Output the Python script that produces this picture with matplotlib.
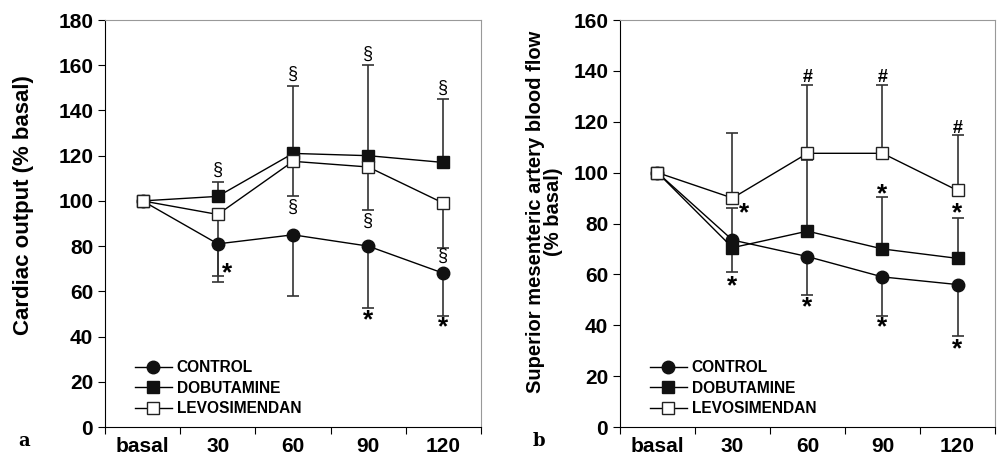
import matplotlib
matplotlib.use("Agg")
import numpy as np
import matplotlib.pyplot as plt

plt.rcParams['font.family'] = ['Liberation Sans', 'DejaVu Sans']

times = ['basal', '30', '60', '90', '120']
series = ['CONTROL', 'DOBUTAMINE', 'LEVOSIMENDAN']

# panel a: cardiac output (% basal)
co_control = [100, 81, 85, 80, 68]
co_dobut = [100, 102, 121, 120, 117]
co_levo = [100, 94, 117.5, 115, 99]
# whisker ends (None = no bar)
co_control_low = [None, 64, 58, 52.5, 49]
co_dobut_high = [None, 108.5, 151, 160, 145]
co_levo_low = [None, 67, 102, 96, 79]

# panel b: superior mesenteric artery blood flow (% basal)
sma_control = [100, 73.5, 67, 59, 56]
sma_dobut = [100, 70.5, 77, 70, 66.3]
sma_levo = [100, 90, 107.6, 107.6, 93]
sma_control_low = [None, 61, 52, 43.7, 35.6]
sma_dobut_high = [None, 86, 105, 90.3, 82.2]
sma_levo_high = [None, 115.7, 134.6, 134.6, 114.7]

# significance marks: (x position, y, symbol)
co_marks = [(1.5, 113.5, '§'), (2.5, 156, '§'), (2.5, 97, '§'), (3.5, 165, '§'),
            (3.5, 91, '§'), (4.5, 150, '§'), (4.5, 75.5, '§'),
            (1.63, 68, '*'), (3.5, 47, '*'), (4.5, 44, '*')]
sma_marks = [(1.65, 84, '*'), (1.5, 55.5, '*'), (2.5, 137.5, '#'), (3.5, 137.5, '#'),
             (4.5, 117.5, '#'), (2.5, 47, '*'), (3.5, 91.5, '*'), (3.5, 39, '*'),
             (4.5, 84, '*'), (4.5, 30.5, '*')]

x = np.arange(len(times)) + 0.5


def whiskers(ax, means, ends):
    idx = [i for i, e in enumerate(ends) if e is not None]
    m = np.array([means[i] for i in idx])
    e = np.array([ends[i] for i in idx])
    lo = np.where(e < m, m - e, 0)
    hi = np.where(e > m, e - m, 0)
    ax.errorbar(x[idx], m, yerr=[lo, hi], fmt='none', ecolor='#333333',
                elinewidth=1.2, capsize=4, capthick=1.2, zorder=2)


def panel(ax, ctrl, dob, lev, bars, marks, ymax):
    for means, ends in bars:
        whiskers(ax, means, ends)
    ax.plot(x, ctrl, '-o', color='black', lw=1, ms=9, mfc='#111111',
            mec='#111111', label=series[0], zorder=4)
    ax.plot(x, dob, '-s', color='black', lw=1, ms=8, mfc='#111111',
            mec='#111111', label=series[1], zorder=4)
    ax.plot(x, lev, '-s', color='black', lw=1, ms=8, mfc='white',
            mec='#222222', label=series[2], zorder=5)
    for xv, yv, s in marks:
        if s == '*':
            ax.text(xv, yv, s, ha='center', va='center', fontsize=19, fontweight='bold')
        else:
            ax.text(xv, yv, s, ha='center', va='center', fontsize=13,
                    fontweight='bold' if s == '#' else 'normal')
    ax.set_xlim(0, 5)
    ax.set_ylim(0, ymax)
    ax.set_xticks(range(6))
    ax.set_xticklabels([])
    ax.set_xticks(x, minor=True)
    ax.set_xticklabels(times, minor=True, fontsize=15, fontweight='bold')
    ax.tick_params(axis='x', which='minor', length=0, pad=7)
    ax.tick_params(axis='x', which='major', length=5, direction='out')
    ax.set_yticks(np.arange(0, ymax + 1, 20))
    ax.tick_params(axis='y', length=5, direction='out', labelsize=15)
    for t in ax.get_yticklabels():
        t.set_fontweight('bold')
    for s in ['top', 'right']:
        ax.spines[s].set_color('#999999')
    leg = ax.legend(loc='lower left', frameon=False, fontsize=11.2, handlelength=2.4,
                    handletextpad=0.3, labelspacing=0.35, borderaxespad=0.3,
                    bbox_to_anchor=(0.05, 0.0))
    for t in leg.get_texts():
        t.set_fontweight('bold')


fig = plt.figure(figsize=(9.99, 4.59), dpi=100)
ax1 = fig.add_axes([0.1051, 0.0697, 0.3764, 0.8867])
ax2 = fig.add_axes([0.6206, 0.0697, 0.3754, 0.8867])

panel(ax1, co_control, co_dobut, co_levo,
      [(co_control, co_control_low), (co_dobut, co_dobut_high), (co_levo, co_levo_low)],
      co_marks, 180)
ax1.set_ylabel('Cardiac output (% basal)', fontsize=16, fontweight='bold')
ax1.yaxis.set_label_coords(-0.19, 0.545)

panel(ax2, sma_control, sma_dobut, sma_levo,
      [(sma_control, sma_control_low), (sma_dobut, sma_dobut_high), (sma_levo, sma_levo_high)],
      sma_marks, 160)
ax2.set_ylabel('Superior mesenteric artery blood flow\n(% basal)', fontsize=14.5,
               fontweight='bold', linespacing=0.95)
ax2.yaxis.set_label_coords(-0.152, 0.528)

fig.text(0.018, 0.04, 'a', fontsize=13, fontweight='bold', family='DejaVu Serif', va='center')
fig.text(0.533, 0.04, 'b', fontsize=13, fontweight='bold', family='DejaVu Serif', va='center')

fig.savefig('out.png', dpi=100)
